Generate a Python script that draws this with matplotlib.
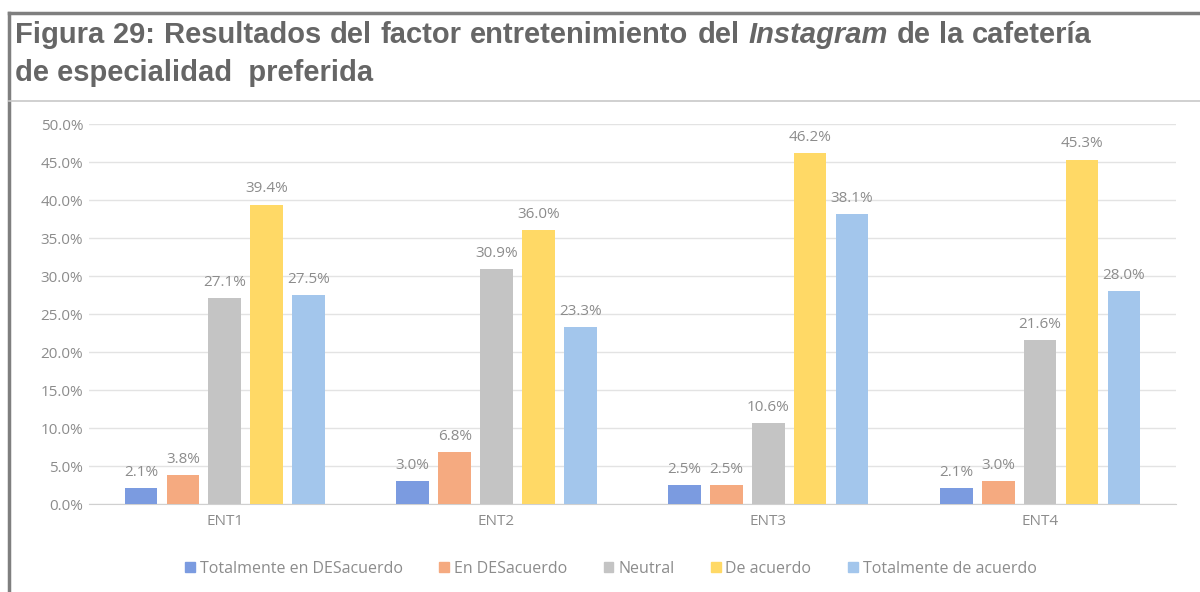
import numpy as np
import matplotlib.pyplot as plt
from matplotlib.lines import Line2D
from matplotlib.patches import Patch

categorias = ['ENT1', 'ENT2', 'ENT3', 'ENT4']
series = ['Totalmente en DESacuerdo', 'En DESacuerdo', 'Neutral', 'De acuerdo', 'Totalmente de acuerdo']
tot_desacuerdo = [2.1, 3.0, 2.5, 2.1]
en_desacuerdo = [3.8, 6.8, 2.5, 3.0]
neutral = [27.1, 30.9, 10.6, 21.6]
de_acuerdo = [39.4, 36.0, 46.2, 45.3]
tot_acuerdo = [27.5, 23.3, 38.1, 28.0]
valores = [tot_desacuerdo, en_desacuerdo, neutral, de_acuerdo, tot_acuerdo]
colores = ['#7b9be0', '#f5aa80', '#c4c4c4', '#ffd966', '#a3c6ec']

titulo1 = [('Figura', False), ('29:', False), ('Resultados', False), ('del', False),
           ('factor', False), ('entretenimiento', False), ('del', False),
           ('Instagram', True), ('de', False), ('la', False), ('cafetería', False)]
titulo2 = 'de especialidad  preferida'

gris = '#8c8c8c'
fuente = 'Open Sans'

W, H = 1200, 592
fig = plt.figure(figsize=(12, 5.92), dpi=100)
ax = fig.add_axes([0.074, 0.1486, 0.906, 0.6419])

x = np.arange(len(categorias))
ancho = 0.12
paso = 0.154
for k, (vals, col) in enumerate(zip(valores, colores)):
    pos = x + (k - 2) * paso
    ax.bar(pos, vals, width=ancho, color=col, zorder=3)
    for p, v in zip(pos, vals):
        ax.text(p, v + 1.1, f'{v:.1f}%', ha='center', va='bottom', color=gris,
                fontsize=11, family=fuente)

ax.set_xlim(-0.5, 3.5)
ax.set_ylim(0, 50)
ax.set_yticks(np.arange(0, 51, 5))
ax.set_yticklabels([f'{t:.1f}%' for t in np.arange(0, 51, 5)], family=fuente)
ax.set_xticks(x)
ax.set_xticklabels(categorias, family=fuente)
ax.tick_params(axis='both', length=0, colors=gris, labelsize=11, pad=7)
ax.tick_params(axis='y', pad=4)
ax.grid(axis='y', color='#e3e3e3', linewidth=1, zorder=0)
for s in ['left', 'right', 'top']:
    ax.spines[s].set_visible(False)
ax.spines['bottom'].set_color('#d0d0d0')

handles = [Patch(color=c, label=s) for c, s in zip(colores, series)]
leg = fig.legend(handles=handles, loc='center', bbox_to_anchor=(0.509, 0.039), ncol=5,
                 frameon=False, handlelength=0.6, handleheight=0.6, handletextpad=0.3,
                 columnspacing=2.3, prop={'family': fuente, 'size': 11.5})
for t in leg.get_texts():
    t.set_color(gris)

# marco
fig.add_artist(Line2D([9 / W, 1], [1 - 13 / H] * 2, color='#7f7f7f', lw=2.5))
fig.add_artist(Line2D([9 / W] * 2, [0, 1 - 13 / H], color='#7f7f7f', lw=2.5))
fig.add_artist(Line2D([9 / W, 1], [1 - 101 / H] * 2, color='#c8c8c8', lw=1.2))

# titulo con "Instagram" en cursiva
tcol = '#666666'
tsize = 21
fig.canvas.draw()
r = fig.canvas.get_renderer()


def linea(palabras, y, x0, x1):
    textos = []
    for w, it in palabras:
        t = fig.text(0, y / H, w, fontsize=tsize, fontweight='bold', color=tcol,
                     style='italic' if it else 'normal', family='Liberation Sans')
        textos.append(t)
    anchos = [t.get_window_extent(r).width for t in textos]
    hueco = (x1 - x0 - sum(anchos)) / (len(textos) - 1)
    xx = x0
    for t, a in zip(textos, anchos):
        t.set_x(xx / W)
        xx += a + hueco


linea(titulo1, H - 43, 15, 1092)
fig.text(15 / W, (H - 81) / H, titulo2, fontsize=tsize, fontweight='bold', color=tcol,
         family='Liberation Sans')

fig.savefig('out.png', dpi=100)
